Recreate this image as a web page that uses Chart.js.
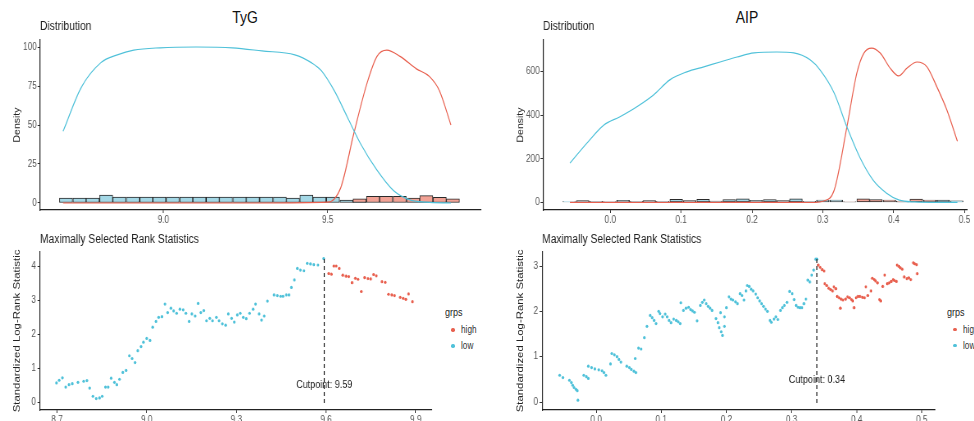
<!DOCTYPE html>
<html>
<head>
<meta charset="utf-8">
<script src="https://cdn.jsdelivr.net/npm/chart.js@4.4.1/dist/chart.umd.min.js"></script>
<style>
  html, body { margin: 0; padding: 0; background: #fff; overflow: hidden; }
  body { width: 974px; height: 421px; position: relative; font-family: "Liberation Sans", Arial, sans-serif; }
  /* the source figure is squeezed horizontally, so every panel is drawn wider and scaled back */
  .box { position: absolute; transform: scaleX(0.82); transform-origin: 0 0; }
  .main-title { position: absolute; top: 8px; font-size: 17px; line-height: 20px; color: #111;
                transform: translateX(-50%) scaleX(0.82); }
  .lg-title { position: absolute; font-size: 11px; line-height: 14px; color: #222; transform: scaleX(0.82); transform-origin: 0 0; }
  .lg-text { position: absolute; font-size: 10px; line-height: 12px; color: #333; transform: scaleX(0.82); transform-origin: 0 0; }
  .lg-dot { position: absolute; width: 3.4px; height: 3.4px; border-radius: 50%; }
</style>
</head>
<body>
<div class="main-title" style="left:245px">TyG</div>
<div class="main-title" style="left:747px">AIP</div>
<div class="box" style="left:0;top:18px;width:597.6px;height:206px"><canvas id="tygDist"></canvas></div>
<div class="box" style="left:510px;top:18px;width:578px;height:206px"><canvas id="aipDist"></canvas></div>
<div class="box" style="left:0;top:228px;width:534px;height:194px"><canvas id="tygRank"></canvas></div>
<div class="box" style="left:500px;top:228px;width:536.6px;height:194px"><canvas id="aipRank"></canvas></div>
<script>
// groups and colours
const grpNames = ['high', 'low'];
const RED = '#e8604f', BLUE = '#4fc1d9';
const RED_FILL = '#f2a295', BLUE_FILL = '#a4d8e6';

// ---- TyG distribution ----
const tygBins = [8.704, 8.745, 8.785, 8.826, 8.866, 8.907, 8.948, 8.988, 9.029, 9.070, 9.110, 9.151, 9.191, 9.232, 9.272,
  9.313, 9.354, 9.394, 9.435, 9.475, 9.516, 9.557, 9.597, 9.638, 9.678, 9.719, 9.760, 9.800, 9.841, 9.881];
const tygLowHist = [3.2, 3.2, 3.2, 5, 3.8, 3.8, 3.8, 3.8, 3.8, 3.8, 3.8, 3.8, 3.8, 3.8, 3.8, 3.8, 3.8, 3.2, 5, 3.8,
  3.8, 1.8, 1.0, null, null, null, null, null, null, null];
const tygHighHist = [null, null, null, null, null, null, null, null, null, null, null, null, null, null, null, null,
  null, null, null, null, null, null, 2.6, 4.3, 4.3, 4.3, 3.2, 4.7, 3.6, 2.6];
const tygLowDensX = [8.695, 8.75, 8.81, 8.86, 8.91, 8.99, 9.10, 9.21, 9.30, 9.40, 9.45, 9.48, 9.52, 9.56, 9.60, 9.65, 9.70, 9.75, 9.80, 9.875];
const tygLowDensY = [46, 74, 90, 95, 98, 99.5, 100, 99.5, 97.5, 95, 90, 85, 72, 55, 38, 21, 8, 2, 0.5, 0];
const tygHighDensX = [8.695, 9.0, 9.3, 9.50, 9.54, 9.58, 9.62, 9.65, 9.68, 9.72, 9.77, 9.81, 9.84, 9.875];
const tygHighDensY = [0, 0, 0, 0.5, 10, 45, 77, 94, 98, 94, 86, 81, 72, 50];
const tygDistXTicks = [9.0, 9.5];
const tygDistYTicks = [0, 25, 50, 75, 100];

// ---- AIP distribution ----
const aipBins = [-0.058, -0.039, -0.020, -0.001, 0.018, 0.037, 0.055, 0.074, 0.093, 0.112, 0.131, 0.149, 0.168, 0.187, 0.206,
  0.225, 0.244, 0.262, 0.281, 0.300, 0.319, 0.338, 0.357, 0.375, 0.394, 0.413, 0.432, 0.451, 0.470, 0.489];
const aipLowHist = [4, 8, 5, 4, 9, 5, 8, 5, 14, 8, 14, 6, 13, 16, 9, 13, 8, 16, 5, 11, 11, 3, null, null, null, 5, null, null, 10, 7];
const aipHighHist = [null, null, null, null, null, null, null, null, null, null, null, null, null, null, null, null,
  null, null, null, null, null, 3, 16, 13, 11, 4, 15, 11, null, null];
const aipLowDensX = [-0.057, -0.033, -0.009, 0.013, 0.037, 0.061, 0.084, 0.108, 0.132, 0.155, 0.179, 0.203, 0.235,
  0.259, 0.282, 0.296, 0.316, 0.334, 0.352, 0.371, 0.390, 0.408, 0.43, 0.46, 0.49];
const aipLowDensY = [180, 272, 355, 392, 438, 493, 562, 599, 622, 644, 667, 686, 690, 686, 654, 608, 502, 346, 208, 102, 42, 10, 2, 0, 0];
const aipHighDensX = [-0.057, 0.1, 0.2, 0.29, 0.30, 0.316, 0.334, 0.348, 0.358, 0.369, 0.381, 0.395, 0.407, 0.419,
  0.433, 0.447, 0.461, 0.475, 0.49];
const aipHighDensY = [0, 0, 0, 0, 5, 56, 346, 593, 685, 708, 685, 616, 580, 616, 644, 622, 530, 425, 280];
const aipDistXTicks = [0.0, 0.1, 0.2, 0.3, 0.4, 0.5];
const aipDistYTicks = [0, 200, 400, 600];

// ---- TyG maximally selected rank statistics ----
const tygLowX = [8.698, 8.707, 8.718, 8.729, 8.740, 8.751, 8.770, 8.789, 8.800, 8.809,
  8.820, 8.831, 8.842, 8.851, 8.862, 8.871, 8.881, 8.892, 8.900, 8.909,
  8.920, 8.931, 8.942, 8.951, 8.961, 8.970, 8.981, 8.989, 9.000, 9.011,
  9.020, 9.031, 9.040, 9.051, 9.061, 9.070, 9.081, 9.090, 9.100, 9.111,
  9.122, 9.131, 9.142, 9.151, 9.162, 9.172, 9.181, 9.191, 9.200, 9.211,
  9.220, 9.233, 9.242, 9.253, 9.264, 9.273, 9.284, 9.293, 9.303, 9.313,
  9.323, 9.333, 9.344, 9.356, 9.364, 9.376, 9.384, 9.393, 9.404, 9.426,
  9.437, 9.448, 9.456, 9.467, 9.476, 9.484, 9.494, 9.504, 9.514, 9.526,
  9.537, 9.548, 9.559, 9.573, 9.592];
const tygLowY = [0.56, 0.64, 0.71, 0.44, 0.51, 0.54, 0.58, 0.61, 0.63, 0.41,
  0.17, 0.10, 0.12, 0.17, 0.44, 0.44, 0.70, 0.58, 0.51, 0.67,
  0.87, 0.93, 1.36, 1.28, 1.16, 1.51, 1.63, 1.76, 1.87, 1.81,
  2.20, 2.37, 2.49, 2.51, 2.88, 2.63, 2.76, 2.68, 2.61, 2.73,
  2.71, 2.61, 2.37, 2.59, 2.53, 2.90, 2.63, 2.69, 2.39, 2.46,
  2.39, 2.49, 2.39, 2.30, 2.26, 2.59, 2.46, 2.35, 2.56, 2.61,
  2.49, 2.45, 2.61, 2.73, 2.88, 2.59, 2.41, 2.53, 2.97, 3.15,
  3.13, 3.11, 3.11, 3.15, 3.15, 3.37, 3.59, 3.93, 3.88, 3.86,
  4.08, 4.06, 4.04, 4.03, 4.22];
const tygHighX = [9.609, 9.618, 9.626, 9.634, 9.644, 9.656, 9.667, 9.676, 9.687, 9.698, 9.707, 9.718, 9.729, 9.740,
  9.749, 9.759, 9.768, 9.787, 9.798, 9.809, 9.820, 9.829, 9.848, 9.858, 9.867, 9.876, 9.889];
const tygHighY = [3.78, 3.76, 4.00, 4.00, 3.93, 3.73, 3.70, 3.69, 3.51, 3.64, 3.61, 3.25, 3.66, 3.63,
  3.62, 3.75, 3.71, 3.54, 3.52, 3.17, 3.15, 3.13, 3.08, 3.05, 3.02, 3.18, 2.95];
const tygCut = 9.594;
const tygCutSpan = [-0.03, 4.26];
const tygRankXTicks = [8.7, 9.0, 9.3, 9.6, 9.9];
const tygRankYTicks = [0, 1, 2, 3, 4];

// ---- AIP maximally selected rank statistics ----
const aipLowX = [-0.056, -0.051, -0.041, -0.038, -0.036, -0.034, -0.031, -0.029, -0.028, -0.019,
  -0.015, -0.012, -0.012, -0.007, -0.002, 0.004, 0.009, 0.012, 0.015, 0.022,
  0.024, 0.028, 0.032, 0.035, 0.038, 0.047, 0.051, 0.054, 0.058, 0.061,
  0.060, 0.065, 0.069, 0.074, 0.078, 0.083, 0.086, 0.089, 0.092, 0.096,
  0.098, 0.102, 0.106, 0.109, 0.112, 0.115, 0.119, 0.123, 0.126, 0.129,
  0.130, 0.134, 0.138, 0.142, 0.145, 0.148, 0.151, 0.155, 0.160, 0.163,
  0.166, 0.169, 0.172, 0.175, 0.178, 0.184, 0.187, 0.189, 0.192, 0.194,
  0.191, 0.197, 0.197, 0.200, 0.204, 0.207, 0.210, 0.214, 0.217, 0.221,
  0.224, 0.227, 0.230, 0.232, 0.235, 0.238, 0.241, 0.245, 0.248, 0.251,
  0.254, 0.257, 0.260, 0.263, 0.267, 0.269, 0.273, 0.276, 0.279, 0.283,
  0.286, 0.289, 0.293, 0.297, 0.301, 0.304, 0.307, 0.310, 0.313, 0.316,
  0.319, 0.322, 0.325, 0.328, 0.331, 0.334, 0.337, 0.339];
const aipLowY = [0.59, 0.54, 0.48, 0.43, 0.37, 0.32, 0.28, 0.25, 0.04, 0.59,
  0.56, 0.52, 0.79, 0.76, 0.73, 0.71, 0.69, 0.65, 0.59, 0.84,
  1.07, 1.04, 1.00, 0.94, 0.88, 0.79, 0.76, 0.72, 0.68, 0.65,
  0.96, 1.19, 1.17, 1.42, 1.67, 1.91, 1.86, 1.80, 1.73, 2.00,
  1.95, 1.88, 1.94, 1.88, 1.80, 1.75, 1.83, 1.80, 1.77, 1.73,
  2.19, 2.02, 2.07, 2.09, 2.04, 2.01, 1.98, 1.79, 2.13, 2.20,
  2.25, 2.17, 2.11, 2.07, 2.02, 1.84, 1.75, 1.64, 1.55, 1.47,
  1.97, 1.88, 1.67, 2.08, 2.32, 2.27, 2.25, 2.21, 2.17, 2.39,
  2.35, 2.25, 2.45, 2.57, 2.55, 2.49, 2.45, 2.38, 2.30, 2.23,
  2.17, 2.11, 2.05, 2.00, 1.80, 1.76, 1.83, 1.88, 1.82, 2.02,
  2.08, 2.13, 2.20, 2.44, 2.39, 2.26, 2.13, 2.09, 2.08, 2.08,
  2.17, 2.27, 2.69, 2.65, 2.80, 2.91, 3.15, 3.15];
const aipHighX = [0.341, 0.344, 0.347, 0.350, 0.351, 0.354, 0.357, 0.360, 0.363, 0.365,
  0.368, 0.370, 0.373, 0.376, 0.379, 0.375, 0.383, 0.386, 0.389, 0.392,
  0.394, 0.396, 0.399, 0.402, 0.405, 0.409, 0.412, 0.414, 0.417, 0.422,
  0.424, 0.427, 0.429, 0.432, 0.435, 0.437, 0.440, 0.443, 0.447, 0.450,
  0.453, 0.456, 0.458, 0.461, 0.462, 0.465, 0.467, 0.470, 0.473, 0.477,
  0.480, 0.483, 0.487, 0.489, 0.492, 0.493];
const aipHighY = [3.02, 2.97, 2.92, 2.89, 2.61, 2.57, 2.51, 2.48, 2.45, 2.54,
  2.50, 2.33, 2.30, 2.27, 2.25, 2.07, 2.27, 2.32, 2.30, 2.26,
  2.23, 2.08, 2.30, 2.33, 2.33, 2.31, 2.30, 2.54, 2.35, 2.45,
  2.73, 2.70, 2.67, 2.63, 2.26, 2.23, 2.55, 2.80, 2.61, 2.63,
  2.66, 2.70, 2.68, 2.66, 3.02, 2.99, 2.96, 2.93, 2.76, 2.72,
  2.74, 2.70, 3.07, 3.05, 3.03, 2.83];
const aipCut = 0.339;
const aipCutSpan = [-0.02, 3.18];
const aipRankXTicks = [0.0, 0.1, 0.2, 0.3, 0.4, 0.5];
const aipRankYTicks = [0, 1, 2, 3];

const FONT = '"Liberation Sans", Arial, sans-serif';
const SQUEEZE = 0.82;              // same factor as the .box transform
const u = px => px / SQUEEZE;      // on-screen horizontal pixels -> canvas pixels
Chart.defaults.font.family = FONT;
Chart.defaults.animation = false;
Chart.defaults.devicePixelRatio = 1;

function pairs(xs, ys) {
  return xs.map((x, i) => ({ x: x, y: ys[i] }));
}

function axis(o) {
  return {
    type: 'linear',
    min: o.min,
    max: o.max,
    offset: false,
    border: { display: true, color: '#222', width: 1.2 },
    grid: { display: true, drawOnChartArea: false, drawTicks: true, tickLength: 3, color: '#333', offset: false },
    ticks: { color: '#555', font: { size: 10 }, padding: o.pad || 1, autoSkip: false, maxRotation: 0, callback: o.fmt },
    afterBuildTicks: s => { s.ticks = o.ticks.map(v => ({ value: v })); },
    afterFit: s => {
      if (o.width) s.width = o.width;
      if (o.height) s.height = o.height;
    },
    title: o.title
      ? { display: true, text: o.title, color: '#222', font: { size: o.titleSize }, padding: { top: o.titlePad, bottom: 0 } }
      : { display: false }
  };
}

function densityLine(xs, ys, color) {
  return { type: 'line', data: pairs(xs, ys), borderColor: color, borderWidth: 1.2, pointRadius: 0,
           cubicInterpolationMode: 'monotone', fill: false };
}

function histBars(xs, ys, color) {
  return { type: 'bar', data: pairs(xs, ys), backgroundColor: color, borderColor: '#2a2a2a', borderWidth: 1,
           borderSkipped: false, barPercentage: 1, categoryPercentage: 1, grouped: false };
}

function points(xs, ys, color) {
  return { type: 'scatter', data: pairs(xs, ys), backgroundColor: color, pointBackgroundColor: color,
           pointBorderWidth: 0, pointRadius: 1.6 };
}

function cutLine(cut, span) {
  return { type: 'line', data: [{ x: cut, y: span[0] }, { x: cut, y: span[1] }], borderColor: '#333',
           borderWidth: 1.3, borderDash: [4, 3], pointRadius: 0, fill: false };
}

// label for the cutpoint, placed through the chart scales
const cutLabel = {
  id: 'cutLabel',
  afterDatasetsDraw(chart, args, opts) {
    if (!opts || !opts.text) return;
    const { ctx, scales } = chart;
    ctx.save();
    ctx.font = '11px ' + FONT;
    ctx.fillStyle = '#222';
    ctx.textAlign = 'center';
    ctx.textBaseline = 'middle';
    ctx.fillText(opts.text, scales.x.getPixelForValue(opts.x), scales.y.getPixelForValue(opts.y));
    ctx.restore();
  }
};

function panelTitle(text, pad) {
  return { display: true, text: text, align: 'start', fullSize: false, color: '#222',
           font: { size: 12.5, weight: 'normal' }, padding: pad };
}

function baseOptions(title, titlePad, padRight, xAxis, yAxis, extra) {
  return {
    responsive: true,
    maintainAspectRatio: false,
    layout: { padding: { left: 0, right: padRight, top: 0, bottom: 0 } },
    scales: { x: xAxis, y: yAxis },
    plugins: Object.assign({
      legend: { display: false },
      tooltip: { enabled: false },
      title: panelTitle(title, titlePad)
    }, extra || {})
  };
}

const fmt1 = v => v.toFixed(1);
const fmt0 = v => String(v);

// TyG distribution
new Chart(document.getElementById('tygDist'), {
  type: 'scatter',
  data: {
    datasets: [
      densityLine(tygLowDensX, tygLowDensY, BLUE),
      densityLine(tygHighDensX, tygHighDensY, RED),
      histBars(tygBins, tygHighHist, RED_FILL),
      histBars(tygBins, tygLowHist, BLUE_FILL)
    ]
  },
  options: baseOptions('Distribution', { top: 1.5, bottom: 5.5 }, u(10),
    axis({ min: 8.625, max: 9.966, ticks: tygDistXTicks, fmt: fmt1, height: 14 }),
    axis({ min: -4.5, max: 104.5, ticks: tygDistYTicks, fmt: fmt0, width: u(40), title: 'Density', titleSize: 10.5, titlePad: u(17) - 6.3 }))
});

// AIP distribution
new Chart(document.getElementById('aipDist'), {
  type: 'scatter',
  data: {
    datasets: [
      densityLine(aipLowDensX, aipLowDensY, BLUE),
      densityLine(aipHighDensX, aipHighDensY, RED),
      histBars(aipBins, aipHighHist, RED_FILL),
      histBars(aipBins, aipLowHist, BLUE_FILL)
    ]
  },
  options: baseOptions('Distribution', { top: 1.5, bottom: 5.5 }, u(17),
    axis({ min: -0.095, max: 0.5035, ticks: aipDistXTicks, fmt: fmt1, height: 14 }),
    axis({ min: -35, max: 745, ticks: aipDistYTicks, fmt: fmt0, width: u(33), title: 'Density', titleSize: 10.5, titlePad: u(10.7) - 6.3 }))
});

// TyG rank statistics
new Chart(document.getElementById('tygRank'), {
  type: 'scatter',
  data: {
    datasets: [
      cutLine(tygCut, tygCutSpan),
      points(tygHighX, tygHighY, RED),
      points(tygLowX, tygLowY, BLUE)
    ]
  },
  options: baseOptions('Maximally Selected Rank Statistics', { top: 4.5, bottom: 4.5 }, u(6),
    axis({ min: 8.643, max: 9.954, ticks: tygRankXTicks, fmt: fmt1, height: 12 }),
    axis({ min: -0.235, max: 4.412, ticks: tygRankYTicks, fmt: fmt0, width: u(40), pad: 2,
           title: 'Standardized Log-Rank Statistic', titleSize: 11.4, titlePad: u(17) - 6.84 }),
    { cutLabel: { text: 'Cutpoint: ' + tygCut.toFixed(2), x: tygCut, y: 0.5 } }),
  plugins: [cutLabel]
});

// AIP rank statistics
new Chart(document.getElementById('aipRank'), {
  type: 'scatter',
  data: {
    datasets: [
      cutLine(aipCut, aipCutSpan),
      points(aipHighX, aipHighY, RED),
      points(aipLowX, aipLowY, BLUE)
    ]
  },
  options: baseOptions('Maximally Selected Rank Statistics', { top: 4.5, bottom: 4.5 }, u(6),
    axis({ min: -0.083, max: 0.520, ticks: aipRankXTicks, fmt: fmt1, height: 12 }),
    axis({ min: -0.176, max: 3.309, ticks: aipRankYTicks, fmt: fmt0, width: u(42), pad: 2,
           title: 'Standardized Log-Rank Statistic', titleSize: 11.4, titlePad: u(20.7) - 6.84 }),
    { cutLabel: { text: 'Cutpoint: ' + aipCut.toFixed(2), x: aipCut, y: 0.485 } }),
  plugins: [cutLabel]
});

// group legends
function addLegend(x, titleY) {
  const colors = [RED, BLUE];
  let html = '<div class="lg-title" style="left:' + x + 'px;top:' + (titleY - 7) + 'px">grps</div>';
  grpNames.forEach((name, i) => {
    const cy = titleY + 18 + 16 * i;
    html += '<div class="lg-dot" style="left:' + (x + 6.3) + 'px;top:' + (cy - 1.7) + 'px;background:' + colors[i] + '"></div>';
    html += '<div class="lg-text" style="left:' + (x + 16) + 'px;top:' + (cy - 6) + 'px">' + name + '</div>';
  });
  document.body.insertAdjacentHTML('beforeend', html);
}
addLegend(445, 312);
addLegend(947, 311.5);
</script>
</body>
</html>
